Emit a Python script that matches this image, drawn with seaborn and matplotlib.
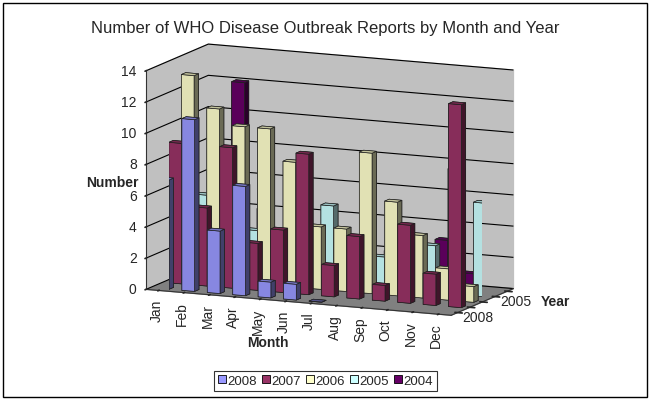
import numpy as np
import pandas as pd
import seaborn as sns
import matplotlib
matplotlib.use("Agg")
import matplotlib.pyplot as plt
from matplotlib.patches import Patch, Rectangle
from matplotlib.transforms import ScaledTranslation

# data
months = ["Jan", "Feb", "Mar", "Apr", "May", "Jun",
          "Jul", "Aug", "Sep", "Oct", "Nov", "Dec"]
years = ["2008", "2007", "2006", "2005", "2004"]
r2008 = [7, 11, 4, 7, 1, 1, 0, np.nan, np.nan, np.nan, np.nan, np.nan]
r2007 = [9, 5, 9, 3, 4, 9, 2, 4, 1, 5, 2, 13]
r2006 = [13, 11, 10, 10, 8, 4, 4, 9, 6, 4, 2, 1]
r2005 = [5, 3, 3, 1, 4, 5, 2, 2, 4, 3, 8, 6]
r2004 = [2, 12, 4, 1, 2, 1, 1, 2, 1, 3, 1, 0]
colors = ["#9999FF", "#993366", "#FFFFCC", "#CCFFFF", "#660066"]

sns.set_theme(style="white")
plt.rcParams["font.family"] = ["Liberation Sans", "DejaVu Sans"]

df = pd.DataFrame({"month": months * 5,
                   "year": np.repeat(years, 12),
                   "count": r2008 + r2007 + r2006 + r2005 + r2004})
df["mi"] = df["month"].map({m: i for i, m in enumerate(months)})
df["yi"] = df["year"].map({y: i for i, y in enumerate(years)})
df = df.dropna()
palette = dict(zip(years, sns.color_palette(colors)))

fig = plt.figure(figsize=(6.51, 4.02), dpi=100)
ax = fig.add_axes([0.14, 0.15, 0.72, 0.78], projection="3d")
ax.computed_zorder = False

# paint back rows first, left to right, so nearer bars cover farther ones
bw, bd = 0.5, 0.35
order = df.sort_values(["yi", "mi"], ascending=[False, True])
for _, row in order.iterrows():
    ax.bar3d(row["mi"] - bw / 2, row["yi"] - bd / 2, 0, bw, bd, row["count"],
             color=palette[row["year"]], edgecolor="#202020",
             linewidth=0.5, shade=True)

ax.set_xlim(-0.5, 11.5)
ax.set_ylim(-0.5, 4.5)
ax.set_zlim(0, 14)
ax.view_init(elev=11, azim=-66)
ax.set_proj_type("ortho")
ax.set_box_aspect((12, 5.5, 8), zoom=1.33)

ax.set_xticks(range(12))
ax.set_xticklabels(months, rotation=90, fontsize=10, ha="center", va="top")
ax.set_yticks(range(5))
ax.set_yticklabels(["2008", "", "", "2005", ""], fontsize=10,
                   ha="left", va="center")
ax.set_zticks(range(0, 15, 2))
ax.set_zticklabels([str(v) for v in range(0, 15, 2)], fontsize=10,
                   ha="right", va="center")
ax.zaxis.set_ticks_position("lower")
ax.tick_params(axis="x", pad=-4)
ax.tick_params(axis="y", pad=-6)
ax.tick_params(axis="z", pad=-5)
shift = ScaledTranslation(20 / 100, 18 / 100, fig.dpi_scale_trans)
for tick in ax.yaxis.get_major_ticks():
    tick.label1.set_transform(tick.label1.get_transform() + shift)

ax.xaxis.set_pane_color("#c0c0c0")
ax.yaxis.set_pane_color("#c0c0c0")
ax.zaxis.set_pane_color("#808080")
for axis in (ax.xaxis, ax.yaxis):
    axis._axinfo["grid"]["linewidth"] = 0
ax.zaxis._axinfo["grid"]["color"] = "black"
ax.zaxis._axinfo["grid"]["linewidth"] = 0.8
for axis in (ax.xaxis, ax.yaxis, ax.zaxis):
    axis.line.set_color("#333333")
    axis.line.set_linewidth(0.8)

fig.text(0.5, 0.93, "Number of WHO Disease Outbreak Reports by Month and Year",
         ha="center", va="center", fontsize=12)
fig.text(0.172, 0.545, "Number", ha="center", va="center",
         fontsize=10, fontweight="bold")
fig.text(0.412, 0.147, "Month", ha="center", va="center",
         fontsize=10, fontweight="bold")
fig.text(0.853, 0.249, "Year", ha="center", va="center",
         fontsize=10, fontweight="bold")

handles = [Patch(facecolor=palette[y], edgecolor="black", linewidth=0.6)
           for y in years]
leg = fig.legend(handles, years, loc="center", bbox_to_anchor=(0.5, 0.05),
                 ncol=5, fontsize=9.5, frameon=True, fancybox=False,
                 handlelength=0.6, handleheight=0.6, handletextpad=0.15,
                 columnspacing=0.35, borderpad=0.3)
leg.get_frame().set_edgecolor("black")
leg.get_frame().set_linewidth(0.8)

fig.patches.append(Rectangle((3 / 651, 4 / 402), 644 / 651, 394 / 402,
                             transform=fig.transFigure, fill=False,
                             edgecolor="black", linewidth=1))

fig.savefig("out.png", dpi=100)
